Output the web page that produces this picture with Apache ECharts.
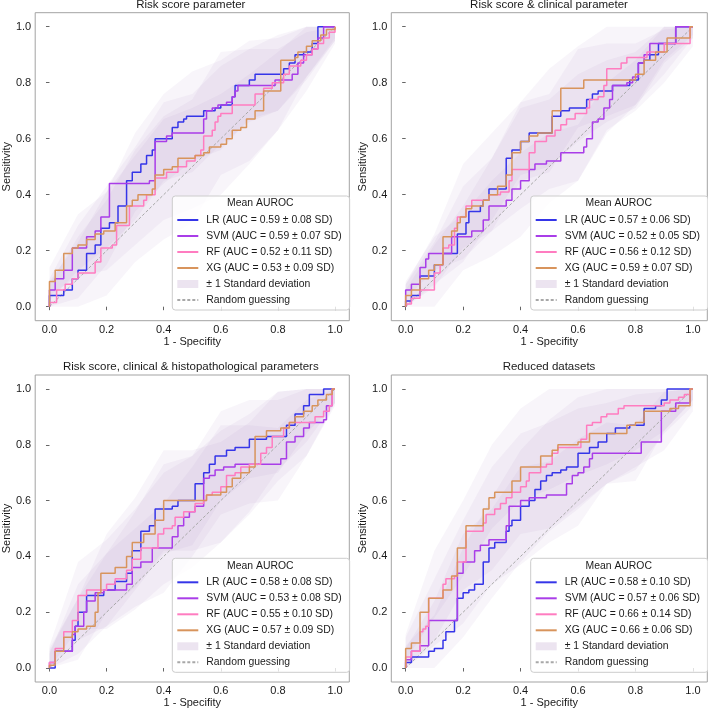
<!DOCTYPE html>
<html><head><meta charset="utf-8">
<script src="https://cdn.jsdelivr.net/npm/echarts@6/dist/echarts.min.js"></script>
<style>html,body{margin:0;padding:0;background:#fff}#c{width:708px;height:711px}</style>
</head><body><div id="c"></div>
<script>
// ---------- tick values / labels ----------
const ticks = [0, 0.2, 0.4, 0.6, 0.8, 1.0];
const tickLabels = ['0.0', '0.2', '0.4', '0.6', '0.8', '1.0'];
const panelTitles = ['Risk score parameter', 'Risk score & clinical parameter',
  'Risk score, clinical & histopathological parameters', 'Reduced datasets'];
const models = ['LR', 'SVM', 'RF', 'XG'];
const aucLabels = [
  ['LR (AUC = 0.59 ± 0.08 SD)', 'SVM (AUC = 0.59 ± 0.07 SD)', 'RF (AUC = 0.52 ± 0.11 SD)', 'XG (AUC = 0.53 ± 0.09 SD)'],
  ['LR (AUC = 0.57 ± 0.06 SD)', 'SVM (AUC = 0.52 ± 0.05 SD)', 'RF (AUC = 0.56 ± 0.12 SD)', 'XG (AUC = 0.59 ± 0.07 SD)'],
  ['LR (AUC = 0.58 ± 0.08 SD)', 'SVM (AUC = 0.53 ± 0.08 SD)', 'RF (AUC = 0.55 ± 0.10 SD)', 'XG (AUC = 0.57 ± 0.09 SD)'],
  ['LR (AUC = 0.58 ± 0.10 SD)', 'SVM (AUC = 0.57 ± 0.06 SD)', 'RF (AUC = 0.66 ± 0.14 SD)', 'XG (AUC = 0.66 ± 0.06 SD)']
];
const diag = [[0, 0], [1, 1]];
const bandX = [0, 0.1, 0.2, 0.3, 0.4, 0.5, 0.6, 0.7, 0.8, 0.9, 1.0];

// ---------- Panel 1: Risk score parameter ----------
const p1LR = [[0,0],[0,0.04],[0.05,0.06],[0.08,0.10],[0.10,0.13],[0.13,0.19],[0.16,0.22],[0.18,0.28],[0.21,0.30],[0.24,0.36],[0.27,0.45],[0.29,0.48],[0.32,0.51],[0.34,0.54],[0.36,0.56],[0.37,0.60],[0.43,0.64],[0.45,0.66],[0.47,0.67],[0.48,0.68],[0.54,0.70],[0.58,0.71],[0.60,0.72],[0.64,0.75],[0.65,0.79],[0.70,0.81],[0.72,0.83],[0.82,0.85],[0.84,0.87],[0.86,0.90],[0.89,0.91],[0.92,0.94],[0.94,1.0],[1.0,1.0]];
const p1SVM = [[0,0],[0,0.06],[0.02,0.10],[0.05,0.13],[0.08,0.21],[0.13,0.25],[0.16,0.27],[0.18,0.32],[0.21,0.44],[0.35,0.45],[0.37,0.59],[0.41,0.61],[0.43,0.62],[0.54,0.67],[0.55,0.70],[0.57,0.71],[0.59,0.72],[0.62,0.73],[0.64,0.75],[0.65,0.77],[0.66,0.79],[0.79,0.81],[0.85,0.83],[0.87,0.87],[0.89,0.90],[0.92,0.92],[0.94,0.96],[0.96,1.0],[1.0,1.0]];
const p1RF = [[0,0],[0,0.015],[0.025,0.06],[0.055,0.08],[0.08,0.10],[0.10,0.12],[0.16,0.16],[0.18,0.21],[0.22,0.22],[0.235,0.29],[0.28,0.36],[0.33,0.38],[0.34,0.40],[0.37,0.46],[0.41,0.48],[0.45,0.50],[0.48,0.52],[0.51,0.54],[0.53,0.56],[0.54,0.61],[0.57,0.63],[0.58,0.66],[0.59,0.68],[0.60,0.69],[0.64,0.72],[0.72,0.76],[0.75,0.78],[0.78,0.80],[0.82,0.83],[0.84,0.86],[0.88,0.88],[0.90,0.90],[0.92,0.92],[0.94,0.94],[0.96,0.96],[0.98,0.98],[1.0,1.0]];
const p1XG = [[0,0],[0,0.09],[0.02,0.13],[0.05,0.19],[0.08,0.21],[0.10,0.22],[0.13,0.24],[0.16,0.26],[0.19,0.27],[0.23,0.30],[0.27,0.36],[0.29,0.38],[0.31,0.40],[0.36,0.42],[0.37,0.47],[0.40,0.49],[0.43,0.50],[0.45,0.53],[0.51,0.54],[0.54,0.55],[0.56,0.57],[0.60,0.58],[0.62,0.60],[0.64,0.63],[0.67,0.64],[0.69,0.67],[0.72,0.70],[0.75,0.77],[0.81,0.88],[0.86,0.89],[0.87,0.91],[0.90,0.93],[0.92,0.95],[0.95,0.97],[0.97,0.99],[1.0,1.0]];
const p1LRLo = [0,0.03,0.15,0.34,0.44,0.52,0.56,0.67,0.70,0.81,0.95];
const p1LRHi = [0.09,0.23,0.41,0.62,0.76,0.84,0.88,0.95,0.96,1.0,1.0];
const p1SVMLo = [0.02,0.13,0.21,0.31,0.45,0.48,0.58,0.66,0.70,0.82,0.96];
const p1SVMHi = [0.10,0.29,0.43,0.57,0.73,0.76,0.86,0.92,0.92,0.98,1.0];
const p1RFLo = [0,0,0.04,0.16,0.24,0.30,0.47,0.52,0.63,0.77,0.94];
const p1RFHi = [0.08,0.25,0.38,0.56,0.68,0.74,0.91,0.92,0.97,1.0,1.0];
const p1XGLo = [0.04,0.11,0.13,0.22,0.31,0.35,0.40,0.51,0.63,0.82,0.95];
const p1XGHi = [0.14,0.33,0.41,0.54,0.67,0.71,0.76,0.83,0.91,1.0,1.0];

// ---------- Panel 2: Risk score & clinical parameter ----------
const p2LR = [[0,0],[0,0.02],[0.02,0.04],[0.05,0.11],[0.10,0.15],[0.13,0.19],[0.18,0.26],[0.21,0.30],[0.22,0.34],[0.26,0.36],[0.27,0.38],[0.29,0.42],[0.35,0.53],[0.37,0.56],[0.40,0.59],[0.43,0.62],[0.51,0.68],[0.54,0.70],[0.57,0.71],[0.63,0.74],[0.65,0.76],[0.67,0.77],[0.72,0.79],[0.78,0.81],[0.81,0.87],[0.83,0.88],[0.85,0.90],[0.88,0.94],[0.94,1.0],[1.0,1.0]];
const p2SVM = [[0,0],[0,0.06],[0.02,0.08],[0.05,0.14],[0.07,0.17],[0.08,0.19],[0.16,0.25],[0.23,0.27],[0.27,0.31],[0.29,0.36],[0.35,0.38],[0.37,0.42],[0.40,0.45],[0.43,0.49],[0.45,0.51],[0.49,0.52],[0.54,0.55],[0.62,0.57],[0.63,0.60],[0.65,0.66],[0.67,0.67],[0.69,0.71],[0.71,0.74],[0.72,0.79],[0.77,0.80],[0.79,0.82],[0.81,0.87],[0.83,0.90],[0.85,0.94],[0.94,1.0],[1.0,1.0]];
const p2RF = [[0,0],[0,0.01],[0.02,0.03],[0.05,0.06],[0.10,0.12],[0.12,0.15],[0.13,0.21],[0.15,0.22],[0.17,0.28],[0.18,0.32],[0.21,0.36],[0.23,0.38],[0.29,0.40],[0.33,0.41],[0.36,0.45],[0.37,0.49],[0.43,0.55],[0.45,0.59],[0.49,0.61],[0.52,0.63],[0.54,0.65],[0.56,0.67],[0.59,0.69],[0.63,0.71],[0.64,0.74],[0.67,0.75],[0.69,0.79],[0.70,0.85],[0.75,0.87],[0.77,0.89],[0.84,0.91],[0.90,0.94],[0.99,0.94],[0.99,1.0],[1.0,1.0]];
const p2XG = [[0,0],[0,0.04],[0.02,0.06],[0.05,0.10],[0.08,0.13],[0.10,0.15],[0.13,0.25],[0.16,0.27],[0.18,0.30],[0.19,0.32],[0.21,0.35],[0.23,0.36],[0.27,0.38],[0.29,0.40],[0.32,0.43],[0.35,0.47],[0.37,0.55],[0.40,0.59],[0.43,0.61],[0.46,0.62],[0.51,0.70],[0.54,0.78],[0.62,0.81],[0.80,0.83],[0.83,0.88],[0.87,0.91],[0.91,0.96],[0.99,1.0],[1.0,1.0]];
const p2LRLo = [0,0.08,0.16,0.31,0.47,0.50,0.59,0.66,0.71,0.87,0.96];
const p2LRHi = [0.06,0.22,0.36,0.53,0.71,0.74,0.83,0.88,0.91,1.0,1.0];
const p2SVMLo = [0.03,0.13,0.17,0.27,0.35,0.42,0.45,0.62,0.72,0.88,0.97];
const p2SVMHi = [0.09,0.25,0.33,0.45,0.55,0.62,0.65,0.80,0.88,1.0,1.0];
const p2RFLo = [0,0,0.13,0.18,0.25,0.37,0.45,0.63,0.70,0.80,0.93];
const p2RFHi = [0.08,0.26,0.51,0.62,0.73,0.85,0.93,1.0,1.0,1.0,1.0];
const p2XGLo = [0,0.07,0.21,0.27,0.45,0.48,0.64,0.68,0.72,0.83,0.96];
const p2XGHi = [0.08,0.23,0.43,0.53,0.73,0.76,0.92,0.94,0.94,0.99,1.0];

// ---------- Panel 3: Risk score, clinical & histopathological parameters ----------
const p3LR = [[0,0],[0.02,0],[0.02,0.06],[0.08,0.10],[0.09,0.15],[0.10,0.20],[0.13,0.24],[0.13,0.26],[0.19,0.28],[0.23,0.31],[0.27,0.34],[0.29,0.42],[0.32,0.49],[0.35,0.51],[0.37,0.57],[0.43,0.58],[0.45,0.60],[0.51,0.66],[0.54,0.70],[0.56,0.73],[0.58,0.76],[0.62,0.78],[0.65,0.79],[0.70,0.82],[0.76,0.83],[0.83,0.87],[0.86,0.91],[0.89,0.94],[0.91,0.98],[0.96,1.0],[1.0,1.0]];
const p3SVM = [[0,0],[0,0.02],[0.02,0.06],[0.08,0.12],[0.09,0.15],[0.12,0.20],[0.13,0.24],[0.16,0.27],[0.19,0.28],[0.27,0.30],[0.29,0.36],[0.32,0.38],[0.36,0.43],[0.43,0.47],[0.45,0.51],[0.47,0.54],[0.49,0.56],[0.51,0.58],[0.54,0.63],[0.54,0.68],[0.56,0.69],[0.58,0.71],[0.61,0.72],[0.65,0.73],[0.81,0.75],[0.83,0.81],[0.86,0.83],[0.89,0.86],[0.91,0.88],[0.96,0.89],[0.97,0.94],[0.99,1.0],[1.0,1.0]];
const p3RF = [[0,0],[0,0.02],[0.02,0.07],[0.05,0.13],[0.08,0.17],[0.10,0.26],[0.13,0.28],[0.20,0.30],[0.23,0.32],[0.27,0.35],[0.29,0.39],[0.32,0.43],[0.38,0.48],[0.40,0.50],[0.43,0.51],[0.44,0.54],[0.47,0.56],[0.51,0.59],[0.54,0.60],[0.55,0.62],[0.57,0.63],[0.60,0.65],[0.62,0.69],[0.65,0.70],[0.67,0.72],[0.70,0.73],[0.74,0.77],[0.76,0.79],[0.78,0.83],[0.82,0.86],[0.84,0.88],[0.93,0.90],[0.96,0.92],[0.98,0.94],[0.99,1.0],[1.0,1.0]];
const p3XG = [[0,0],[0,0.01],[0.02,0.06],[0.05,0.11],[0.08,0.13],[0.10,0.14],[0.13,0.15],[0.16,0.20],[0.17,0.27],[0.18,0.34],[0.23,0.36],[0.27,0.40],[0.29,0.45],[0.33,0.48],[0.37,0.53],[0.40,0.60],[0.55,0.62],[0.60,0.63],[0.62,0.65],[0.64,0.68],[0.67,0.70],[0.70,0.72],[0.72,0.83],[0.76,0.85],[0.81,0.86],[0.84,0.88],[0.86,0.90],[0.89,0.92],[0.92,0.94],[0.94,0.96],[0.97,0.98],[0.99,1.0],[1.0,1.0]];
const p3LRLo = [0,0.10,0.15,0.28,0.41,0.44,0.60,0.68,0.70,0.84,0.95];
const p3LRHi = [0.05,0.30,0.41,0.56,0.73,0.76,0.92,0.96,0.96,1.0,1.0];
const p3SVMLo = [0,0.05,0.15,0.22,0.27,0.40,0.55,0.59,0.60,0.76,0.95];
const p3SVMHi = [0.07,0.25,0.41,0.50,0.59,0.72,0.87,0.87,0.86,0.96,1.0];
const p3RFLo = [0,0.14,0.14,0.21,0.30,0.36,0.45,0.55,0.67,0.76,0.94];
const p3RFHi = [0.08,0.38,0.46,0.57,0.70,0.76,0.85,0.91,0.99,1.0,1.0];
const p3XGLo = [0,0.03,0.20,0.29,0.42,0.42,0.45,0.56,0.71,0.81,0.95];
const p3XGHi = [0.06,0.25,0.48,0.61,0.78,0.78,0.81,0.88,0.99,1.0,1.0];

// ---------- Panel 4: Reduced datasets ----------
const p4LR = [[0,0],[0,0.02],[0.02,0.04],[0.08,0.06],[0.10,0.07],[0.13,0.10],[0.14,0.13],[0.17,0.17],[0.18,0.25],[0.20,0.27],[0.22,0.28],[0.24,0.30],[0.27,0.38],[0.29,0.43],[0.31,0.45],[0.35,0.49],[0.36,0.51],[0.37,0.53],[0.40,0.58],[0.43,0.60],[0.45,0.64],[0.47,0.67],[0.49,0.69],[0.51,0.70],[0.54,0.71],[0.56,0.72],[0.60,0.77],[0.64,0.79],[0.67,0.81],[0.70,0.84],[0.73,0.86],[0.78,0.87],[0.83,0.93],[0.87,0.94],[0.89,0.96],[0.91,1.0],[1.0,1.0]];
const p4SVM = [[0,0],[0,0.03],[0.02,0.06],[0.05,0.08],[0.08,0.17],[0.18,0.34],[0.20,0.38],[0.24,0.42],[0.26,0.44],[0.29,0.46],[0.35,0.51],[0.36,0.58],[0.40,0.60],[0.43,0.61],[0.49,0.62],[0.56,0.66],[0.58,0.69],[0.60,0.70],[0.62,0.72],[0.64,0.75],[0.65,0.77],[0.82,0.81],[0.89,0.92],[0.94,0.95],[0.99,0.96],[0.99,1.0],[1.0,1.0]];
const p4RF = [[0,0],[0,0.04],[0.02,0.06],[0.05,0.13],[0.06,0.14],[0.07,0.15],[0.08,0.25],[0.13,0.30],[0.14,0.32],[0.17,0.33],[0.18,0.38],[0.21,0.49],[0.27,0.52],[0.28,0.55],[0.31,0.57],[0.33,0.59],[0.35,0.61],[0.37,0.63],[0.40,0.65],[0.42,0.67],[0.43,0.70],[0.47,0.72],[0.49,0.73],[0.51,0.77],[0.53,0.79],[0.61,0.82],[0.63,0.87],[0.65,0.88],[0.68,0.90],[0.70,0.91],[0.74,0.93],[0.76,0.94],[0.90,0.95],[0.92,0.96],[0.95,0.97],[0.97,0.98],[0.99,1.0],[1.0,1.0]];
const p4XG = [[0,0],[0,0.07],[0.02,0.09],[0.05,0.13],[0.05,0.20],[0.08,0.25],[0.13,0.28],[0.16,0.33],[0.18,0.43],[0.21,0.51],[0.27,0.57],[0.29,0.61],[0.31,0.63],[0.37,0.67],[0.40,0.72],[0.47,0.76],[0.51,0.78],[0.53,0.80],[0.60,0.81],[0.64,0.84],[0.77,0.87],[0.80,0.88],[0.83,0.92],[0.92,0.93],[0.95,0.94],[0.99,0.94],[0.99,1.0],[1.0,1.0]];
const p4LRLo = [0,0,0.11,0.25,0.38,0.49,0.57,0.66,0.71,0.84,0.94];
const p4LRHi = [0.08,0.19,0.43,0.61,0.78,0.89,0.97,1.0,1.0,1.0,1.0];
const p4SVMLo = [0,0.10,0.28,0.35,0.48,0.50,0.58,0.66,0.67,0.85,0.96];
const p4SVMHi = [0.07,0.24,0.48,0.57,0.72,0.74,0.82,0.88,0.87,0.99,1.0];
const p4RFLo = [0,0.08,0.16,0.30,0.37,0.45,0.51,0.66,0.72,0.78,0.92];
const p4RFHi = [0.12,0.42,0.60,0.80,0.93,1.0,1.0,1.0,1.0,1.0,1.0];
const p4XGLo = [0.03,0.18,0.33,0.50,0.60,0.64,0.69,0.73,0.78,0.85,0.96];
const p4XGHi = [0.11,0.32,0.53,0.72,0.84,0.88,0.93,0.95,0.98,0.99,1.0];

// ---------- assembly ----------
const curves = [[p1LR, p1SVM, p1RF, p1XG], [p2LR, p2SVM, p2RF, p2XG], [p3LR, p3SVM, p3RF, p3XG], [p4LR, p4SVM, p4RF, p4XG]];
const bands = [
  [[p1LRLo, p1LRHi], [p1SVMLo, p1SVMHi], [p1RFLo, p1RFHi], [p1XGLo, p1XGHi]],
  [[p2LRLo, p2LRHi], [p2SVMLo, p2SVMHi], [p2RFLo, p2RFHi], [p2XGLo, p2XGHi]],
  [[p3LRLo, p3LRHi], [p3SVMLo, p3SVMHi], [p3RFLo, p3RFHi], [p3XGLo, p3XGHi]],
  [[p4LRLo, p4LRHi], [p4SVMLo, p4SVMHi], [p4RFLo, p4RFHi], [p4XGLo, p4XGHi]]
];
const colors = ['#3535e8', '#a93de8', '#ff7cc0', '#d8945c'];
const bandColor = 'rgba(150,120,178,0.07)';
const FONT = '"Liberation Sans", Arial, sans-serif';
const TXT = '#1a1a1a';

const gridBoxes = [
  {left: 32.7, top: 12.7, width: 316.6, height: 308},
  {left: 391.3, top: 12.7, width: 316, height: 308},
  {left: 32.7, top: 375, width: 316.6, height: 307},
  {left: 391.3, top: 375, width: 316, height: 307}
];
const legendPos = [{left: 172.3, top: 196}, {left: 530.7, top: 196}, {left: 172.3, top: 558.3}, {left: 530.7, top: 558.3}];

const tickFmt = v => { const i = ticks.indexOf(v); return i >= 0 ? tickLabels[i] : v.toFixed(1); };
const hideSym = {color: 'rgba(0,0,0,0)', borderWidth: 0, borderColor: 'rgba(0,0,0,0)'};

const option = {
  animation: false,
  backgroundColor: '#fff',
  textStyle: {fontFamily: FONT},
  title: [],
  grid: gridBoxes.map(g => Object.assign({show: true, borderColor: '#a3a3a3', borderWidth: 1, backgroundColor: 'transparent'}, g)),
  xAxis: gridBoxes.map((g, i) => ({
    type: 'value', gridIndex: i, min: -0.05, max: 1.05,
    axisLine: {show: false}, splitLine: {show: false},
    axisTick: {show: true, customValues: ticks, length: 3.5, lineStyle: {color: '#666'}},
    axisLabel: {customValues: ticks, formatter: tickFmt, fontSize: 11, color: TXT, margin: 3.5, fontFamily: FONT},
    name: '1 - Specifity', nameLocation: 'middle', nameGap: 14.5,
    nameTextStyle: {fontSize: 11, color: TXT, fontFamily: FONT, verticalAlign: 'top'}
  })),
  yAxis: gridBoxes.map((g, i) => ({
    type: 'value', gridIndex: i, min: -0.05, max: 1.05,
    axisLine: {show: false}, splitLine: {show: false},
    axisTick: {show: true, customValues: ticks, length: 3.5, lineStyle: {color: '#666'}},
    axisLabel: {customValues: ticks, formatter: tickFmt, fontSize: 11, color: TXT, margin: 4, fontFamily: FONT},
    name: 'Sensitivity', nameLocation: 'middle', nameGap: 22,
    nameTextStyle: {fontSize: 11, color: TXT, fontFamily: FONT}
  })),
  legend: [],
  series: []
};

const titlePos = [{x: 190.8, y: -1.3}, {x: 549, y: -1.3}, {x: 190.8, y: 361.2}, {x: 549, y: 361.2}];
panelTitles.forEach((t, i) => {
  option.title.push({text: t, left: titlePos[i].x, top: titlePos[i].y, textAlign: 'center', textVerticalAlign: 'top', padding: 0,
    textStyle: {fontSize: 11.5, fontWeight: 'normal', color: TXT, fontFamily: FONT}});
  option.title.push({text: 'Mean AUROC', left: legendPos[i].left + 88, top: legendPos[i].top + 2.5, textAlign: 'center', textVerticalAlign: 'top', padding: 0, z: 20,
    textStyle: {fontSize: 10.4, fontWeight: 'normal', color: TXT, fontFamily: FONT}});
});

for (let p = 0; p < 4; p++) {
  // bands
  for (let m = 0; m < 4; m++) {
    const lo = bands[p][m][0], hi = bands[p][m][1];
    option.series.push({
      type: 'custom', name: '± 1 Standard deviation', xAxisIndex: p, yAxisIndex: p, z: 1, silent: true,
      itemStyle: {color: bandColor},
      data: bandX.map((x, k) => [x, lo[k], hi[k]]),
      encode: {x: 0, y: [1, 2]},
      renderItem: function (params, api) {
        if (params.dataIndex !== 0) return null;
        const pts = [];
        for (let k = 0; k < bandX.length; k++) pts.push(api.coord([bandX[k], hi[k]]));
        for (let k = bandX.length - 1; k >= 0; k--) pts.push(api.coord([bandX[k], lo[k]]));
        return {type: 'polygon', shape: {points: pts}, style: {fill: bandColor}};
      }
    });
  }
  // diagonal
  option.series.push({
    type: 'line', name: 'Random guessing', xAxisIndex: p, yAxisIndex: p, data: diag, symbol: 'none', z: 2, silent: true,
    lineStyle: {color: '#a8a8a8', width: 1, type: [3, 2]}, itemStyle: {color: '#a8a8a8'}
  });
  // mean ROC curves
  for (let m = 0; m < 4; m++) {
    option.series.push({
      type: 'line', name: aucLabels[p][m], xAxisIndex: p, yAxisIndex: p, data: curves[p][m],
      step: 'end', symbol: 'none', z: 3 + m, silent: true,
      lineStyle: {color: colors[m], width: 1.5}, itemStyle: {color: colors[m]}
    });
  }
  option.legend.push({
    left: legendPos[p].left, top: legendPos[p].top, orient: 'vertical',
    itemWidth: 21, itemHeight: 8, itemGap: 6,
    padding: [19, 8, 5, 4],
    backgroundColor: 'rgba(255,255,255,0.8)', borderColor: '#cccccc', borderWidth: 1, borderRadius: 3,
    selectedMode: false, z: 10,
    textStyle: {fontSize: 10.4, color: TXT, fontFamily: FONT, padding: [0, 0, 0, 3]},
    data: aucLabels[p].map(n => ({name: n, itemStyle: hideSym})).concat([
      {name: '± 1 Standard deviation', icon: 'rect', itemStyle: {color: '#ece4f0', borderWidth: 0}},
      {name: 'Random guessing', itemStyle: hideSym}
    ])
  });
}

const chart = echarts.init(document.getElementById('c'), null, {renderer: 'canvas'});
chart.setOption(option);
</script></body></html>
